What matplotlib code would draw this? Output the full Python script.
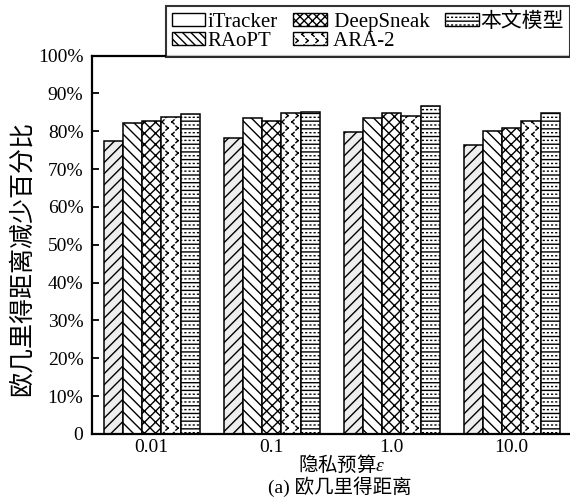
import numpy as np
import matplotlib
matplotlib.use("Agg")
import matplotlib.pyplot as plt
import matplotlib.hatch as mhatch
from matplotlib.path import Path
from matplotlib.patches import Patch

plt.rcParams['font.family'] = ['Liberation Serif', 'Noto Sans CJK SC']
# ε 用斜体衬线
plt.rcParams['mathtext.fontset'] = 'custom'
plt.rcParams['mathtext.it'] = 'Liberation Serif:italic'
plt.rcParams['mathtext.rm'] = 'Liberation Serif'
plt.rcParams['hatch.linewidth'] = 1.0

# 数据
budgets = ['0.01', '0.1', '1.0', '10.0']
names = ['iTracker', 'RAoPT', ' DeepSneak', ' ARA-2', '本文模型']
itracker = [77.5, 78.2, 79.8, 76.4]
raopt = [82.1, 83.6, 83.5, 80.1]
deepsneak = [82.8, 82.8, 84.8, 80.8]
ara2 = [83.9, 84.9, 84.1, 82.8]
ours = [84.6, 85.2, 86.7, 84.9]
yticks = [0, 10, 20, 30, 40, 50, 60, 70, 80, 90, 100]
ylabels = ['0'] + ['%d%%' % v for v in yticks[1:]]


# 自定义填充图案: '*' -> "<" ">" 交错, 'o' -> 横线+点线
class ChevronHatch(mhatch.HatchPatternBase):
    def __init__(self, hatch, density):
        n = hatch.count('*')
        self.cols = 10 * n
        self.rows = 8 * n
        self.num_vertices = self.cols * self.rows * 2 * 4

    def set_vertices_and_codes(self, vertices, codes):
        w, h = 0.011, 0.02
        k = 0
        for i in range(self.cols):
            for j in range(self.rows):
                for sub, sign in ((0, 1), (1, -1)):
                    cx = (i + 0.3 + 0.4 * sub) / self.cols
                    cy = (j + 0.25 + 0.5 * sub) / self.rows
                    tip = (cx - sign * w, cy)
                    vertices[k:k + 4] = [(cx + sign * w, cy + h), tip, tip,
                                         (cx + sign * w, cy - h)]
                    codes[k:k + 4] = [Path.MOVETO, Path.LINETO,
                                      Path.MOVETO, Path.LINETO]
                    k += 4


class RuledDotsHatch(mhatch.HatchPatternBase):
    def __init__(self, hatch, density):
        n = hatch.count('o')
        self.lines = 13 * n
        self.dots = 24
        self.num_vertices = self.lines * 2 + self.lines * self.dots * 2

    def set_vertices_and_codes(self, vertices, codes):
        k = 0
        for j in range(self.lines):
            y = (j + 0.25) / self.lines
            vertices[k] = (0.0, y)
            vertices[k + 1] = (1.0, y)
            codes[k] = Path.MOVETO
            codes[k + 1] = Path.LINETO
            k += 2
            yd = (j + 0.75) / self.lines
            for i in range(self.dots):
                x = (i + 0.5) / self.dots
                vertices[k] = (x - 0.004, yd)
                vertices[k + 1] = (x + 0.004, yd)
                codes[k] = Path.MOVETO
                codes[k + 1] = Path.LINETO
                k += 2


mhatch._hatch_types[:] = [t for t in mhatch._hatch_types
                          if t not in (mhatch.Stars, mhatch.SmallCircles)]
mhatch._hatch_types += [ChevronHatch, RuledDotsHatch]

series = [itracker, raopt, deepsneak, ara2, ours]
hatches = ['///', '\\\\\\', 'xxx', '*', 'o']
faces = ['#eeeeee', 'white', 'white', 'white', 'white']
legend_hatches = ['', '\\\\\\\\', 'xxxx', '*', 'o']

fig = plt.figure(figsize=(5.7, 4.97), dpi=100)
ax = fig.add_axes([0.161, 0.127, 0.842, 0.761])

x = np.arange(len(budgets))
width = 0.16
for k, vals in enumerate(series):
    ax.bar(x + (k - 2) * width, vals, width, color=faces[k], edgecolor='black',
           linewidth=1.1, hatch=hatches[k])

ax.set_xlim(-0.5, 3.5)
ax.set_ylim(0, 100)
ax.set_xticks(x)
ax.set_xticklabels(budgets, fontsize=14)
ax.set_yticks(yticks)
ax.set_yticklabels(ylabels, fontsize=14)
ax.tick_params(axis='y', direction='in', length=5, width=1.3, pad=6)
ax.tick_params(axis='x', length=0, pad=4)
for s in ax.spines.values():
    s.set_linewidth(1.6)

ax.set_ylabel('欧几里得距离减少百分比', fontsize=18)
ax.yaxis.set_label_coords(-0.122, 0.465)
# 非公式部分取文本自身字体, 所以这里直接指定中文字体
ax.set_xlabel('隐私预算$\\varepsilon$', fontsize=14, family='Noto Sans CJK SC')
ax.xaxis.set_label_coords(0.52, -0.052)
fig.text(0.596, 0.021, '(a) 欧几里得距离', fontsize=14, ha='center', va='center')

handles = [Patch(facecolor='white', edgecolor='black', linewidth=1.0,
                 hatch=legend_hatches[k]) for k in range(len(names))]
leg = fig.legend(handles, names, loc='upper left', bbox_to_anchor=(0.291, 0.988),
                 ncol=3, fontsize=15, frameon=True, fancybox=False,
                 edgecolor='black', handlelength=1.6, handleheight=0.6,
                 handletextpad=0.1, labelspacing=0.0, columnspacing=0.75,
                 borderpad=0.3, borderaxespad=0.0)
leg.get_frame().set_linewidth(1.5)

fig.savefig('out.png', dpi=100)
